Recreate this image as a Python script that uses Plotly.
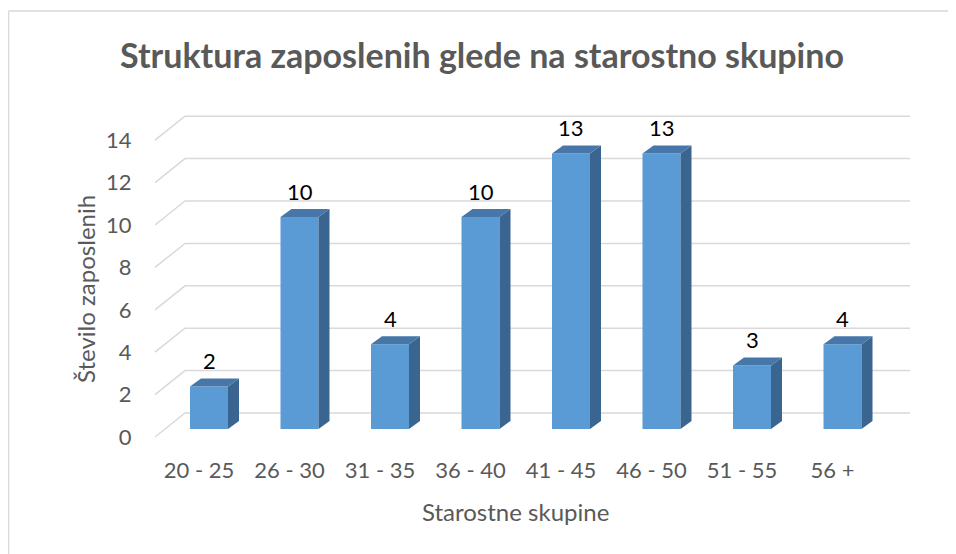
import plotly.graph_objects as go

# data
age_groups = ["20 - 25", "26 - 30", "31 - 35", "36 - 40", "41 - 45", "46 - 50", "51 - 55", "56 +"]
employees = [2, 10, 4, 10, 13, 13, 3, 4]
y_ticks = [0, 2, 4, 6, 8, 10, 12, 14]

title_text = "Struktura zaposlenih glede na starostno skupino"
x_title = "Starostne skupine"
y_title = "Število zaposlenih"

# the page body adds an 8px margin, so the figure is drawn 8px smaller
OFF = 8
W, H = 956 - OFF, 554 - OFF

# geometry measured on the page (pixels), used for the fake 3d look
X0PX, XSTEP = 209, 90.5      # centre of first bar front, spacing
Y0PX, YSTEP = 429, 21.2      # bar base, pixels per unit
PL, PR, PT, PB = 149, 920, 100, 441

BAR_W = 38 / XSTEP
DEPTH_X, DEPTH_Y = 11 / XSTEP, 8 / YSTEP          # bar depth
FRONT_X, FRONT_Y = -10 / XSTEP, -8 / YSTEP        # floor front edge vs bar face
BACK_X, BACK_Y = 20 / XSTEP, 16 / YSTEP           # back wall vs bar face
GRID_LEFT = (155 - X0PX) / XSTEP
GRID_RIGHT = (910 - X0PX) / XSTEP

FACE = "#5B9BD5"
SIDE = "#3A6591"
TOP = "#4677A8"
GRID = "#D9D9D9"
TXT = "#595959"
FONT = "Lato"


def px_x(p):
    return (p - PL) / (PR - PL)


def px_y(p):
    return (PB - p) / (PB - PT)


xs = list(range(len(age_groups)))

fig = go.Figure()

# front faces
fig.add_trace(go.Bar(x=xs, y=employees, width=BAR_W, marker=dict(color=FACE, line=dict(width=0)),
                     showlegend=False))

# side faces
sx, sy = [], []
for i, v in zip(xs, employees):
    r = i + BAR_W / 2
    sx += [r, r + DEPTH_X, r + DEPTH_X, r, r, None]
    sy += [0, DEPTH_Y, v + DEPTH_Y, v, 0, None]
fig.add_trace(go.Scatter(x=sx, y=sy, mode="lines", fill="toself", fillcolor=SIDE,
                         line=dict(width=0, color=SIDE), hoverinfo="skip", showlegend=False))

# top faces
tx, ty = [], []
for i, v in zip(xs, employees):
    l, r = i - BAR_W / 2, i + BAR_W / 2
    tx += [l, l + DEPTH_X, r + DEPTH_X, r, l, None]
    ty += [v, v + DEPTH_Y, v + DEPTH_Y, v, v, None]
fig.add_trace(go.Scatter(x=tx, y=ty, mode="lines", fill="toself", fillcolor=TOP,
                         line=dict(width=0, color=TOP), hoverinfo="skip", showlegend=False))

# gridlines: diagonal on the floor side, then along the back wall (behind the bars)
shapes = []
for t in y_ticks:
    path = (f"M {GRID_LEFT},{t + FRONT_Y} L {GRID_LEFT + BACK_X - FRONT_X},{t + BACK_Y} "
            f"L {GRID_RIGHT},{t + BACK_Y}")
    shapes.append(dict(type="path", path=path, xref="x", yref="y", layer="below",
                       line=dict(color=GRID, width=1.5)))

# chart border (only left and top edges are in view)
shapes += [
    dict(type="line", xref="paper", yref="paper", x0=px_x(8.5), x1=px_x(8.5), y0=px_y(570), y1=px_y(11),
         line=dict(color=GRID, width=1.5)),
    dict(type="line", xref="paper", yref="paper", x0=px_x(8.5), x1=px_x(970), y0=px_y(11), y1=px_y(11),
         line=dict(color=GRID, width=1.5)),
]

annotations = [
    dict(text=str(v), x=i, y=v + DEPTH_Y, xref="x", yref="y", yanchor="middle", yshift=18,
         showarrow=False, font=dict(family=FONT, size=22, color="#000000"))
    for i, v in zip(xs, employees)
]
annotations += [
    dict(text=y_title, xref="paper", yref="paper", x=px_x(85), y=px_y(289), textangle=-90,
         xanchor="center", yanchor="middle", showarrow=False, font=dict(size=24, color=TXT)),
    dict(text=x_title, xref="paper", yref="paper", x=px_x(515), y=px_y(511),
         xanchor="center", yanchor="middle", showarrow=False, font=dict(size=24, color=TXT)),
]

fig.update_layout(
    width=W, height=H,
    margin=dict(l=PL - OFF, r=OFF + W - PR, t=PT - OFF, b=OFF + H - PB),
    paper_bgcolor="white", plot_bgcolor="white",
    font=dict(family=FONT, color=TXT),
    title=dict(text=f"<b>{title_text}</b>", x=(482 - OFF) / W, y=1 - (56 - OFF) / H,
               xanchor="center", yanchor="middle",
               font=dict(family=FONT, size=34, color=TXT)),
    xaxis=dict(range=[(PL - X0PX) / XSTEP, (PR - X0PX) / XSTEP],
               tickvals=[i + FRONT_X for i in xs], ticktext=age_groups,
               ticks="outside", ticklen=10, tickcolor="rgba(0,0,0,0)",
               tickfont=dict(size=22, color=TXT), showgrid=False, zeroline=False, showline=False),
    yaxis=dict(range=[(Y0PX - PB) / YSTEP, (Y0PX - PT) / YSTEP],
               tickvals=[t + FRONT_Y for t in y_ticks], ticktext=[str(t) for t in y_ticks],
               ticks="outside", ticklen=12, tickcolor="rgba(0,0,0,0)",
               tickfont=dict(size=22, color=TXT), showgrid=False, zeroline=False, showline=False),
    annotations=annotations,
    shapes=shapes,
)

fig.write_html("out.html")
